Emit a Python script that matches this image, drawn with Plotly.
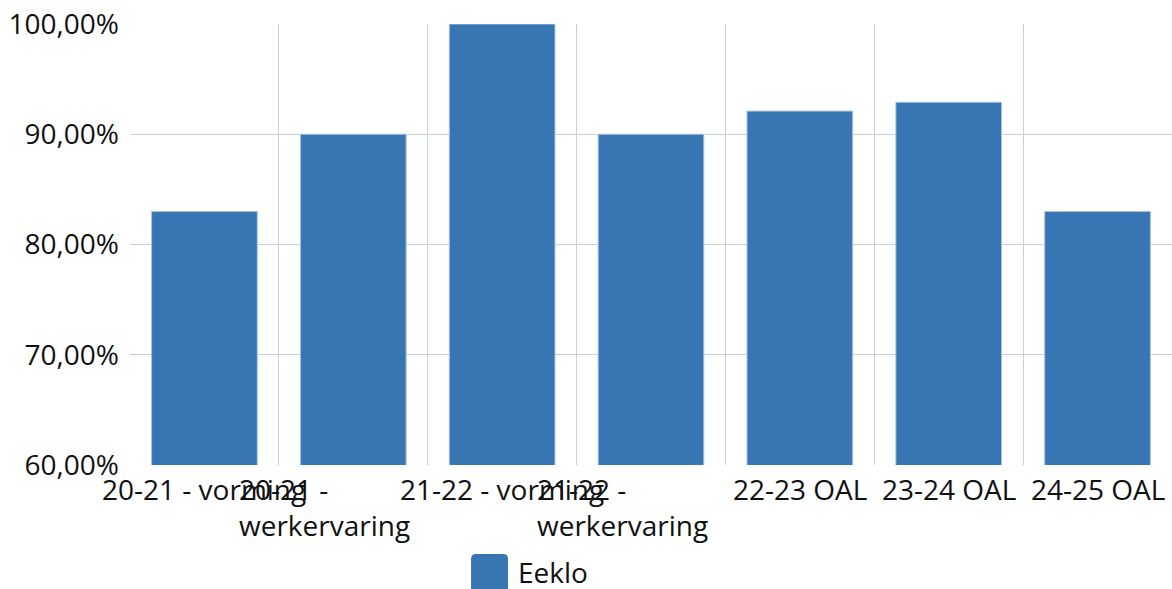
import plotly.graph_objects as go

categories = ["20-21 - vorming", "20-21 - werkervaring", "21-22 - vorming",
              "21-22 - werkervaring", "22-23 OAL", "23-24 OAL", "24-25 OAL"]
tick_labels = ["20-21 - vorming", "20-21 -<br>werkervaring", "21-22 - vorming",
               "21-22 -<br>werkervaring", "22-23 OAL", "23-24 OAL", "24-25 OAL"]
values_eeklo = [83.0, 90.0, 100.0, 90.0, 92.1, 92.9, 83.0]
series_name = "Eeklo"
y_ticks = [60, 70, 80, 90, 100]

BLUE = "#3776b3"
GRID = "#c8d0da"
FONT = "Open Sans"
FS = 28
TXT = "#111111"

fig = go.Figure()
fig.add_trace(go.Bar(
    x=categories, y=[v / 100 for v in values_eeklo], name=series_name,
    marker=dict(color=BLUE, line=dict(color="#a9c3e0", width=1)),
    showlegend=False,
))

# category labels (wrapped ones are left-aligned and nudged left as in the original)
annotations = []
for cat, lab in zip(categories, tick_labels):
    wrapped = "<br>" in lab
    annotations.append(dict(
        text=lab, xref="x", yref="paper", x=cat, y=0, yanchor="top", xanchor="center",
        xshift=-29 if wrapped else 0, yshift=-3, align="left", showarrow=False,
        font=dict(family=FONT, size=FS, color=TXT),
    ))

# legend entry
annotations.append(dict(
    text=series_name, xref="paper", yref="paper", x=0.370, y=-0.243,
    xanchor="left", yanchor="middle", showarrow=False,
    font=dict(family=FONT, size=FS, color=TXT),
))

fig.update_layout(
    width=1172, height=589,
    margin=dict(l=130, r=0, t=24, b=124, pad=0, autoexpand=False),
    paper_bgcolor="white", plot_bgcolor="white",
    separators=",.",
    bargap=0.29,
    font=dict(family=FONT, size=FS, color=TXT),
    xaxis=dict(
        type="category", tickmode="array", tickvals=categories,
        range=[-0.5, len(categories) - 0.5],
        tickson="boundaries", showgrid=True, gridcolor=GRID, gridwidth=1,
        ticks="", showline=False, zeroline=False, automargin=False,
        showticklabels=False,
    ),
    yaxis=dict(
        range=[0.60, 1.00], tickvals=[t / 100 for t in y_ticks], tickformat=".2%",
        showgrid=True, gridcolor=GRID, gridwidth=1, zeroline=False,
        showline=False, ticks="", ticklabelstandoff=10, automargin=False,
        tickfont=dict(size=FS),
    ),
    shapes=[dict(
        type="path", xref="paper", yref="paper", layer="above",
        path="M 0.3321 -0.2018 L 0.3580 -0.2018 Q 0.3628 -0.2018 0.3628 -0.2131 "
             "L 0.3628 -0.30 L 0.3273 -0.30 L 0.3273 -0.2131 Q 0.3273 -0.2018 0.3321 -0.2018 Z",
        fillcolor=BLUE, line=dict(width=0),
    )],
    annotations=annotations,
)

fig.write_html("out.html", config={"displayModeBar": False},
               post_script="document.body.style.margin='0';document.body.style.overflow='hidden';")
